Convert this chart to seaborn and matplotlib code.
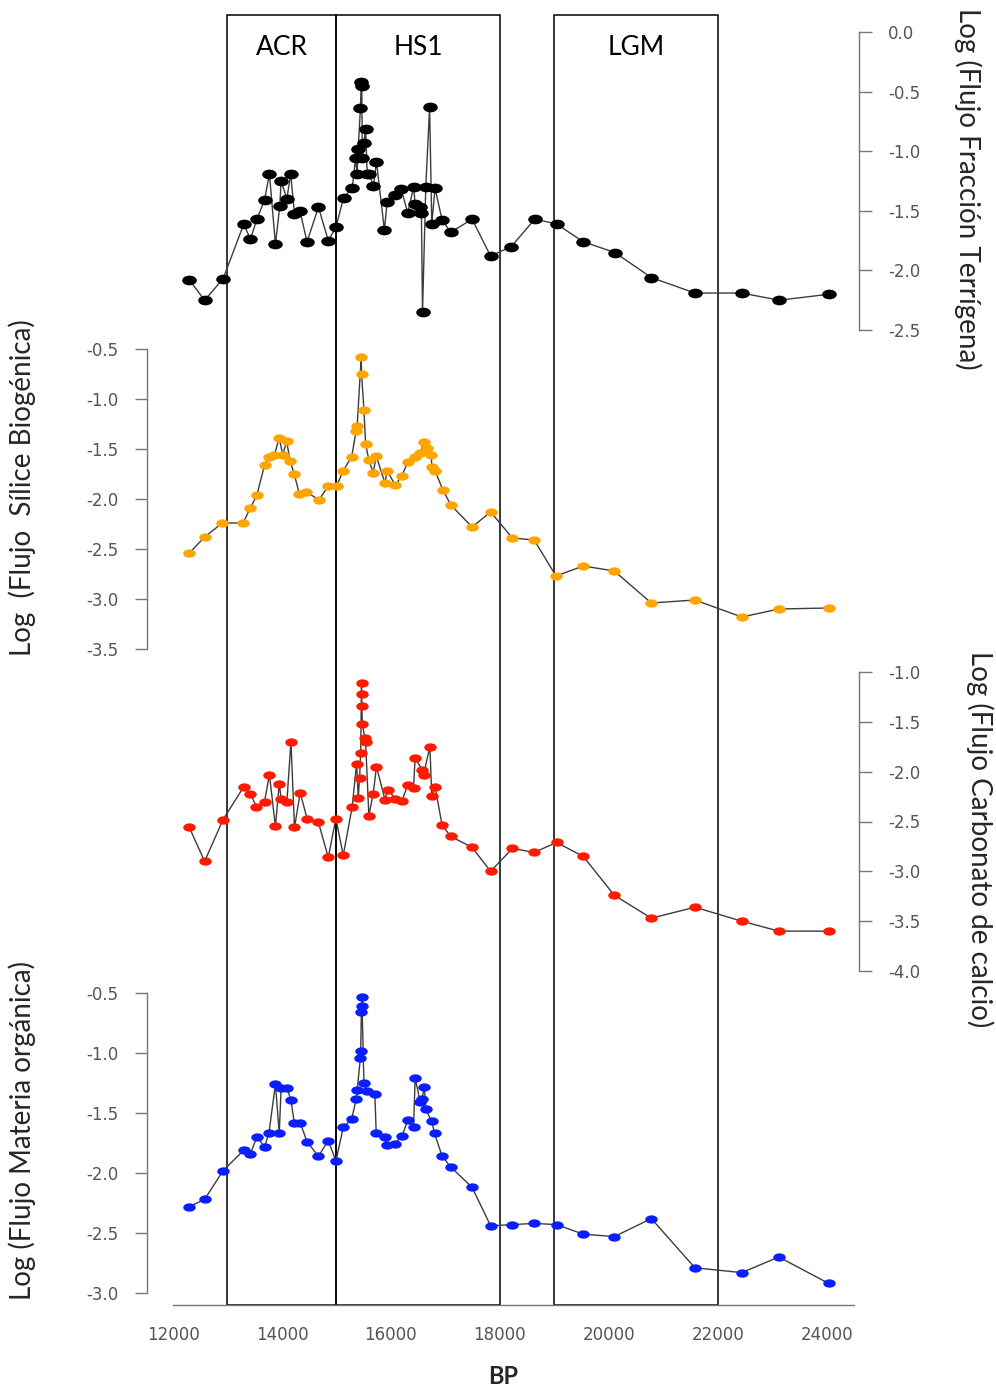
import numpy as np
import pandas as pd
import matplotlib
matplotlib.use("Agg")
import matplotlib.pyplot as plt
import seaborn as sns
from matplotlib.markers import MarkerStyle
from matplotlib.transforms import Affine2D
from matplotlib.patches import Rectangle

# ---------------- data ----------------
period_names = ["ACR", "HS1", "LGM"]
period_start = [13000, 15000, 19000]
period_end = [15000, 18000, 22000]

bp_terr = [12300, 12580, 12920, 13300, 13420, 13540, 13680, 13770, 13880, 13960,
           13985, 14090, 14160, 14230, 14330, 14460, 14670, 14850, 14990, 15130,
           15290, 15350, 15380, 15400, 15440, 15455, 15465, 15475, 15505, 15535,
           15565, 15600, 15680, 15735, 15880, 15930, 16070, 16190, 16310, 16415,
           16445, 16540, 16560, 16580, 16640, 16710, 16750, 16810, 16940, 17100,
           17490, 17830, 18210, 18640, 19040, 19530, 20110, 20780, 21580, 22440,
           23125, 24040]
terr = [-2.08, -2.25, -2.07, -1.61, -1.74, -1.57, -1.41, -1.19, -1.78, -1.46,
        -1.25, -1.40, -1.19, -1.53, -1.50, -1.76, -1.47, -1.75, -1.64, -1.39,
        -1.31, -1.06, -1.19, -0.98, -0.64, -0.42, -0.45, -1.06, -0.93, -0.81,
        -1.19, -1.19, -1.29, -1.09, -1.66, -1.43, -1.37, -1.32, -1.52, -1.30,
        -1.44, -1.47, -1.52, -2.35, -1.30, -0.63, -1.61, -1.31, -1.58, -1.68,
        -1.57, -1.88, -1.80, -1.57, -1.61, -1.76, -1.85, -2.06, -2.19, -2.19,
        -2.25, -2.20]

bp_sil = [12300, 12580, 12905, 13285, 13420, 13540, 13680, 13760, 13860, 13950,
          14015, 14085, 14150, 14225, 14320, 14450, 14680, 14850, 15005, 15120,
          15280, 15360, 15380, 15455, 15462, 15505, 15535, 15595, 15675, 15730,
          15890, 15930, 16080, 16200, 16310, 16445, 16540, 16600, 16660, 16740,
          16750, 16810, 16955, 17100, 17490, 17830, 18230, 18630, 19030, 19530,
          20100, 20780, 21580, 22440, 23120, 24035]
sil = [-2.54, -2.38, -2.24, -2.24, -2.09, -1.96, -1.66, -1.58, -1.56, -1.39,
       -1.56, -1.42, -1.62, -1.75, -1.95, -1.93, -2.01, -1.87, -1.87, -1.72,
       -1.58, -1.32, -1.27, -0.58, -0.75, -1.11, -1.45, -1.61, -1.74, -1.57,
       -1.84, -1.72, -1.86, -1.77, -1.63, -1.58, -1.54, -1.43, -1.49, -1.56,
       -1.68, -1.72, -1.91, -2.06, -2.28, -2.13, -2.39, -2.41, -2.77, -2.67,
       -2.72, -3.04, -3.01, -3.18, -3.10, -3.09]

bp_carb = [12300, 12580, 12920, 13300, 13420, 13530, 13680, 13770, 13880, 13950,
           13985, 14090, 14165, 14230, 14335, 14460, 14670, 14850, 14990, 15125,
           15290, 15370, 15400, 15425, 15445, 15460, 15463, 15466, 15475, 15520,
           15535, 15595, 15675, 15735, 15890, 15940, 16080, 16205, 16310, 16415,
           16445, 16570, 16600, 16715, 16750, 16810, 16940, 17100, 17490, 17830,
           18230, 18630, 19040, 19530, 20100, 20780, 21580, 22440, 23120, 24035]
carb = [-2.56, -2.90, -2.48, -2.15, -2.22, -2.35, -2.30, -2.03, -2.55, -2.12,
        -2.27, -2.30, -1.70, -2.56, -2.21, -2.47, -2.51, -2.86, -2.47, -2.84,
        -2.35, -1.92, -2.26, -2.06, -1.81, -1.11, -1.22, -1.34, -1.52, -1.66,
        -1.70, -2.44, -2.22, -1.95, -2.28, -2.18, -2.27, -2.29, -2.13, -2.16,
        -1.86, -1.98, -2.03, -1.75, -2.24, -2.15, -2.54, -2.65, -2.76, -3.00,
        -2.77, -2.81, -2.71, -2.85, -3.24, -3.47, -3.36, -3.50, -3.60, -3.60]

bp_org = [12300, 12580, 12920, 13300, 13420, 13540, 13680, 13760, 13880, 13950,
          13985, 14090, 14165, 14225, 14335, 14460, 14670, 14850, 14990, 15125,
          15280, 15365, 15380, 15440, 15445, 15458, 15462, 15466, 15505, 15565,
          15705, 15730, 15890, 15930, 16070, 16205, 16310, 16415, 16445, 16540,
          16570, 16615, 16640, 16750, 16800, 16940, 17100, 17490, 17830, 18230,
          18630, 19040, 19530, 20100, 20780, 21580, 22440, 23120, 24035]
org = [-2.28, -2.22, -1.98, -1.81, -1.84, -1.70, -1.78, -1.67, -1.26, -1.67,
       -1.29, -1.29, -1.39, -1.58, -1.58, -1.74, -1.86, -1.73, -1.90, -1.62,
       -1.55, -1.38, -1.31, -1.04, -0.98, -0.66, -0.61, -0.53, -1.25, -1.32,
       -1.34, -1.67, -1.70, -1.77, -1.76, -1.69, -1.56, -1.62, -1.21, -1.41,
       -1.38, -1.28, -1.47, -1.57, -1.67, -1.86, -1.95, -2.12, -2.44, -2.43,
       -2.42, -2.43, -2.51, -2.53, -2.38, -2.79, -2.83, -2.70, -2.92]

label_terr = "Log (Flujo Fracción Terrígena)"
label_sil = "Log  (Flujo  Sílice Biogénica)"
label_carb = "Log (Flujo Carbonato de calcio)"
label_org = "Log (Flujo Materia orgánica)"

# ---------------- style ----------------
sns.set_style("white")
plt.rcParams['font.family'] = ['DejaVu Sans']

W, H = 996, 1391
fig = plt.figure(figsize=(W / 100, H / 100), dpi=100)


def frac_rect(x0, x1, ytop, ybot):
    return [x0 / W, 1 - ybot / H, (x1 - x0) / W, (ybot - ytop) / H]


X0, X1 = 173, 854
XLIM = (12000, 24500)
AXCOL = '#777777'
TXTCOL = '#555555'
LBLFONT = ['Lato', 'DejaVu Sans']

# main axes: x axis + period boxes
main = fig.add_axes(frac_rect(X0, X1, 15, 1305))
main.set_xlim(XLIM)
main.set_ylim(0, 1)
main.patch.set_alpha(0)
for s in ['top', 'left', 'right']:
    main.spines[s].set_visible(False)
main.spines['bottom'].set_color(AXCOL)
main.spines['bottom'].set_linewidth(1.0)
ticks = np.arange(12000, 24501, 500)
main.set_xticks(ticks)
main.set_xticklabels([str(t) if t % 2000 == 0 else '' for t in ticks])
main.tick_params(axis='x', direction='out', length=7, width=1, color=AXCOL,
                 labelcolor=TXTCOL, labelsize=12, pad=8)
main.set_yticks([])
for name, a, b in zip(period_names, period_start, period_end):
    main.add_patch(Rectangle((a, 0), b - a, 1, fill=False, ec='black', lw=1.1,
                             clip_on=False, zorder=1))
    main.text((a + b) / 2, 0.975, name, ha='center', va='center', fontsize=19,
              family=LBLFONT, color='black')
fig.text(503 / W, 1 - 1376 / H, 'BP', ha='center', va='center', fontsize=17,
         fontweight='bold', family=LBLFONT)

marker = MarkerStyle('o', transform=Affine2D().scale(1.5, 1.0))

panels = [
    (bp_terr, terr, 'black', 'right', 32, 330, (-2.5, 0.0), 7.0),
    (bp_sil, sil, '#FFA500', 'left', 349, 649, (-3.5, -0.5), 6.0),
    (bp_carb, carb, '#FF1A00', 'right', 672, 971, (-4.0, -1.0), 6.0),
    (bp_org, org, '#0A1EFF', 'left', 993, 1293, (-3.0, -0.5), 6.0),
]

for xs, ys, col, side, top, bot, lim, ms in panels:
    ax = fig.add_axes(frac_rect(X0, X1, top, bot))
    ax.set_xlim(XLIM)
    ax.set_ylim(lim)
    ax.patch.set_alpha(0)
    df = pd.DataFrame({'BP': xs, 'v': ys})
    sns.lineplot(data=df, x='BP', y='v', ax=ax, sort=False, estimator=None,
                 color='#3c3c3c', lw=1.0, marker=marker, markersize=ms,
                 markerfacecolor=col, markeredgewidth=0, clip_on=False, zorder=3)
    for s in ['top', 'bottom', 'left', 'right']:
        ax.spines[s].set_visible(s == side)
    ax.spines[side].set_color(AXCOL)
    ax.spines[side].set_linewidth(1.0)
    if side == 'left':
        ax.spines['left'].set_position(('outward', 18.5))
        ax.yaxis.tick_left()
    else:
        ax.spines['right'].set_position(('outward', 3.5))
        ax.yaxis.tick_right()
    yt = np.arange(lim[1], lim[0] - 0.01, -0.5)
    ax.set_yticks(yt)
    ax.set_yticklabels(['%.1f' % v for v in yt])
    ax.tick_params(axis='y', direction='out', length=9, width=1, color=AXCOL,
                   labelcolor=TXTCOL, labelsize=12, pad=12)
    ax.set_xticks([])
    ax.set_xlabel('')
    ax.set_ylabel('')

fig.text(968 / W, 1 - 189 / H, label_terr, rotation=-90, ha='center', va='center',
         fontsize=20, family=LBLFONT)
fig.text(22 / W, 1 - 488 / H, label_sil, rotation=90, ha='center', va='center',
         fontsize=20, family=LBLFONT)
fig.text(980 / W, 1 - 839 / H, label_carb, rotation=-90, ha='center', va='center',
         fontsize=20, family=LBLFONT)
fig.text(22 / W, 1 - 1131 / H, label_org, rotation=90, ha='center', va='center',
         fontsize=20, family=LBLFONT)

fig.savefig('out.png', dpi=100, facecolor='white')
